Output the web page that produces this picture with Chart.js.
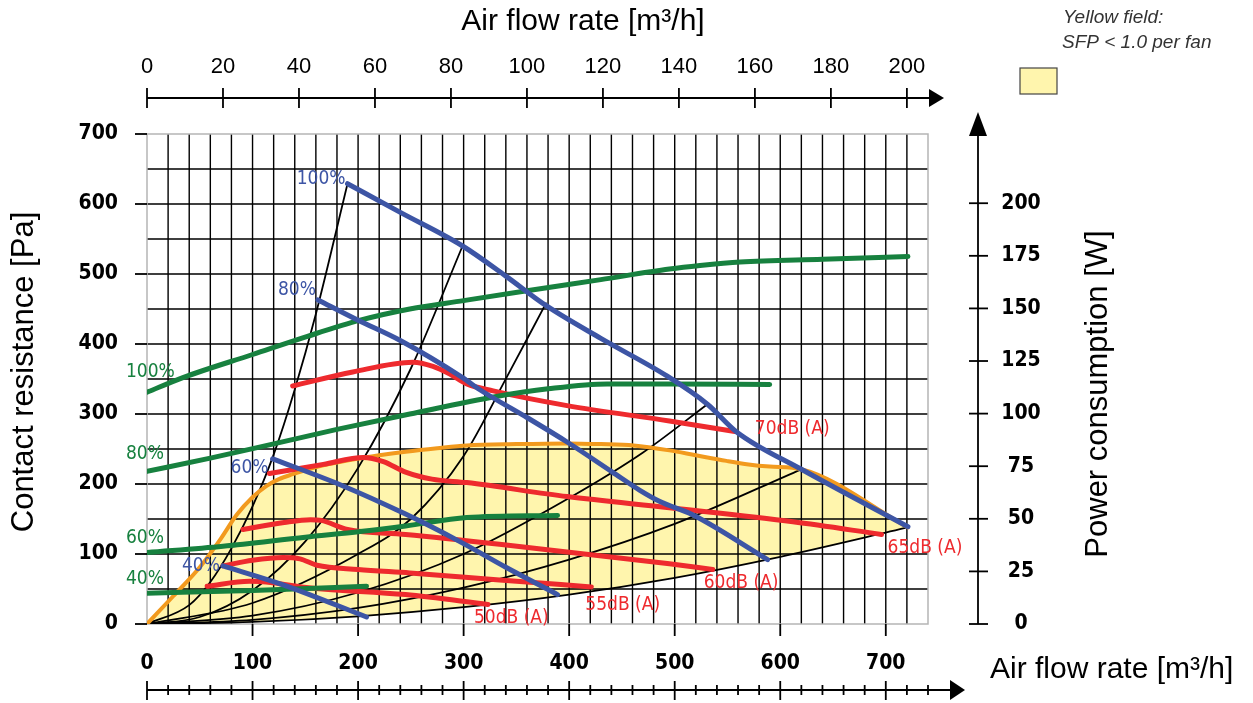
<!DOCTYPE html>
<html>
<head>
<meta charset="utf-8">
<script src="https://cdn.jsdelivr.net/npm/chart.js@4.4.0/dist/chart.umd.min.js"></script>
<style>html,body{margin:0;background:#fff}canvas{display:block}</style>
</head>
<body>
<canvas id="chart" width="1253" height="703"></canvas>
<script>
// Ticks
const flowTicks=[0,100,200,300,400,500,600,700];   // m3/h, bottom
const lsTicks=[0,20,40,60,80,100,120,140,160,180,200]; // top axis (x3.6 = m3/h)
const paTicks=[0,100,200,300,400,500,600,700];
const wTicks=[0,25,50,75,100,125,150,175,200];

// Fan curves (flow m3/h, pressure Pa) at fan speed %
const fan100=[[190,629],[240,588],[299,540],[340,497],[379,454],[430,408],[493,354],[531,314],[559,274],[620,221],[721,139]];
const fan80=[[162,463],[200,434],[240,405],[299,352],[315,335],[360,295],[398,260],[441,217],[467,191],[486,175],[517,156],[588,92]];
const fan60=[[119,236],[183,199],[245,157],[296,118],[340,81],[389,42]];
const fan40=[[72,83],[129,56],[208,10]];
const fanLabels=['100%','80%','60%','40%'];

// Power consumption (read on Pa axis) at fan speed %
const pow100=[[0,331],[34,352],[100,385],[152,411],[202,434],[249,450],[300,462],[360,476],[430,492],[495,507],[524,512],[562,517],[640,521],[721,525]];
const pow80=[[0,218],[60,237],[119,257],[180,278],[249,300],[331,325],[380,336],[436,343],[495,343],[590,342]];
const pow60=[[0,102],[72,111],[150,124],[202,132],[245,140],[303,152],[389,155]];
const pow40=[[0,44],[100,48],[208,54]];

// Sound level lines
const db70=[[138,340],[195,360],[252,374],[271,368],[287,357],[303,343],[328,333],[398,312],[495,290],[557,275]];
const db65=[[116,215],[167,228],[205,238],[224,232],[245,217],[270,207],[303,202],[398,182],[495,166],[612,146],[696,128]];
const db60=[[91,135],[130,145],[155,149],[165,148],[190,135],[245,128],[334,114],[495,86],[536,78]];
const db55=[[72,83],[100,91],[129,95],[145,93],[161,84],[200,78],[249,73],[334,63],[421,53]];
const db50=[[57,54],[97,61],[119,59],[151,52],[245,42],[323,28]];
const dbLabels=['70dB (A)','65dB (A)','60dB (A)','55dB (A)','50dB (A)'];

// SFP < 1.0 boundary
const sfpEdge=[[0,0],[25,40],[50,81],[70,122],[85,156],[100,181],[113,197],[125,207],[138,214],[165,226],[195,235],[220,241],[245,246],[275,251],[303,255],[350,257],[398,258],[430,257],[461,255],[495,248],[520,241],[549,233],[570,228],[590,225],[620,221],[721,138]];

// System curves
const sys1=[[0,0],[40,27],[60,60],[80,108],[100,168],[120,242],[140,335],[160,443],[190,629]];
const sys2=[[0,0],[50,10],[100,48],[150,118],[200,223],[250,365],[299,540]];
const sys3=[[0,0],[100,30],[200,100],[250,150],[300,240],[341,353],[378,458]];
const sys4=[[0,0],[100,12],[200,45],[300,100],[400,180],[470,245],[531,314]];
const sys5=[[0,0],[100,6],[200,23],[300,52],[400,92],[500,143],[620,221]];
const sys6=[[0,0],[100,3],[200,11],[300,24],[400,42],[500,66],[600,96],[721,138]];

const BLUE='#3d55a5', GREEN='#17813f', RED='#ee2a2e', ORANGE='#f29a1e', YELLOW='#fff5ad';
const NARROW='"Liberation Sans Narrow", "Liberation Sans", sans-serif';
const COND='"DejaVu Sans Condensed", sans-serif';

function pts(arr){return arr.map(p=>({x:p[0],y:p[1]}));}
function line(arr,color,width,order){
  return {data:pts(arr),borderColor:color,borderWidth:width,pointRadius:0,showLine:true,
    cubicInterpolationMode:'monotone',fill:false,order:order,borderCapStyle:'round'};
}

const sysCurves=[sys1,sys2,sys3,sys4,sys5,sys6];
const datasets=[];
[fan100,fan80,fan60,fan40].forEach(d=>datasets.push(line(d,BLUE,5,0)));
[pow100,pow80,pow60,pow40].forEach(d=>datasets.push(line(d,GREEN,5,0)));
[db70,db65,db60,db55,db50].forEach(d=>datasets.push(line(d,RED,5,0)));
const edge=line(sfpEdge,ORANGE,4,1);
datasets.push(edge);
const sysStart=datasets.length;
sysCurves.forEach(d=>datasets.push(line(d,'#000',1.8,2)));
edge.fill={target:sysStart+5};
edge.backgroundColor=YELLOW;

function arrowHead(ctx,x1,y1,x2,y2,x3,y3){
  ctx.beginPath();ctx.moveTo(x1,y1);ctx.lineTo(x2,y2);ctx.lineTo(x3,y3);ctx.closePath();ctx.fill();
}

const decor={
  id:'decor',
  beforeDatasetsDraw(chart){
    const {ctx,chartArea:a,scales:{x,y}}=chart;
    ctx.save();
    ctx.strokeStyle='#000';ctx.lineWidth=1.4;
    ctx.beginPath();
    for(let v=20;v<=720;v+=20){const px=x.getPixelForValue(v);ctx.moveTo(px,a.top);ctx.lineTo(px,a.bottom);}
    for(let v=50;v<700;v+=50){const py=y.getPixelForValue(v);ctx.moveTo(a.left,py);ctx.lineTo(a.right,py);}
    ctx.stroke();
    ctx.strokeStyle='#b5b5b5';ctx.lineWidth=1.5;
    ctx.strokeRect(a.left,a.top,a.right-a.left,a.bottom-a.top);
    ctx.restore();
  },
  afterDatasetsDraw(chart){
    const {ctx,chartArea:a,scales:{x,y,yW}}=chart;
    ctx.save();
    ctx.fillStyle='#000';ctx.strokeStyle='#000';ctx.lineWidth=1.8;

    // left axis
    ctx.font='bold 21px '+COND;ctx.textAlign='right';ctx.textBaseline='middle';
    paTicks.forEach(v=>{
      const py=y.getPixelForValue(v);
      ctx.beginPath();ctx.moveTo(a.left-12,py);ctx.lineTo(a.left,py);ctx.stroke();
      ctx.fillText(String(v),118,py);
    });

    // bottom axis
    ctx.textAlign='center';
    flowTicks.forEach(v=>{
      const px=x.getPixelForValue(v);
      if(v>0){ctx.beginPath();ctx.moveTo(px,a.bottom);ctx.lineTo(px,a.bottom+12);ctx.stroke();}
      ctx.fillText(String(v),px,664);
    });
    const by=690;
    ctx.beginPath();ctx.moveTo(a.left,by);ctx.lineTo(954,by);ctx.stroke();
    arrowHead(ctx,950,680,965,by,950,700);
    for(let v=0;v<=740;v+=20){
      const px=x.getPixelForValue(v);const big=v%100===0;
      ctx.beginPath();ctx.moveTo(px,by-(big?9:5));ctx.lineTo(px,by+(big?10:5));ctx.stroke();
    }

    // top axis (l/s scale)
    const ty=98;
    ctx.beginPath();ctx.moveTo(a.left,ty);ctx.lineTo(932,ty);ctx.stroke();
    arrowHead(ctx,929,89,944,ty,929,107);
    ctx.font='22px '+NARROW;ctx.textBaseline='middle';
    lsTicks.forEach(v=>{
      const px=x.getPixelForValue(v*3.6);
      ctx.beginPath();ctx.moveTo(px,ty-10);ctx.lineTo(px,ty+10);ctx.stroke();
      ctx.fillText(String(v),px,67);
    });

    // right axis (power)
    const rx=978;
    ctx.beginPath();ctx.moveTo(rx,a.bottom);ctx.lineTo(rx,130);ctx.stroke();
    arrowHead(ctx,969,136,rx,112,987,136);
    ctx.font='bold 21px '+COND;
    wTicks.forEach(v=>{
      const py=yW.getPixelForValue(v);
      ctx.beginPath();ctx.moveTo(rx-9,py);ctx.lineTo(rx+10,py);ctx.stroke();
      ctx.fillText(String(v),1021,py);
    });

    // titles
    ctx.font='30px '+NARROW;
    ctx.fillText('Air flow rate [m\u00b3/h]',583,22);
    ctx.textAlign='left';
    ctx.fillText('Air flow rate [m\u00b3/h]',990,670);
    ctx.save();ctx.translate(24,372);ctx.rotate(-Math.PI/2);ctx.textAlign='center';
    ctx.font='31px '+NARROW;ctx.fillText('Contact resistance [Pa]',0,0);ctx.restore();
    ctx.save();ctx.translate(1098,394);ctx.rotate(-Math.PI/2);ctx.textAlign='center';
    ctx.font='31px '+NARROW;ctx.fillText('Power consumption [W]',0,0);ctx.restore();

    // legend
    ctx.font='italic 19px '+NARROW;ctx.textAlign='left';ctx.fillStyle='#333';
    ctx.fillText('Yellow field:',1063,18);
    ctx.fillText('SFP < 1.0 per fan',1062,43);
    ctx.fillStyle=YELLOW;ctx.fillRect(1020,68,37,26);
    ctx.strokeStyle='#444';ctx.lineWidth=1.2;ctx.strokeRect(1020,68,37,26);

    // curve labels
    ctx.font='19px '+COND;
    ctx.fillStyle=BLUE;ctx.textAlign='right';
    const fanOff=[[-2,-5],[-2,-10],[-4,9],[-3,0]];
    [fan100,fan80,fan60,fan40].forEach((d,i)=>{
      ctx.fillText(fanLabels[i],x.getPixelForValue(d[0][0])+fanOff[i][0],y.getPixelForValue(d[0][1])+fanOff[i][1]);
    });
    ctx.fillStyle=GREEN;ctx.textAlign='left';
    const powOff=[-20,-17,-15,-14];
    [pow100,pow80,pow60,pow40].forEach((d,i)=>{
      ctx.fillText(fanLabels[i],126,y.getPixelForValue(d[0][1])+powOff[i]);
    });
    ctx.fillStyle=RED;
    const dbOff=[[20,-2],[6,14],[-9,14],[-6,18],[-14,14]];
    [db70,db65,db60,db55,db50].forEach((d,i)=>{
      const e=d[d.length-1];
      ctx.fillText(dbLabels[i],x.getPixelForValue(e[0])+dbOff[i][0],y.getPixelForValue(e[1])+dbOff[i][1]);
    });
    ctx.restore();
  }
};

new Chart(document.getElementById('chart'),{
  type:'scatter',
  data:{datasets},
  options:{
    responsive:false,animation:false,devicePixelRatio:1,
    layout:{padding:{left:147,top:134,right:325,bottom:79}},
    scales:{
      x:{type:'linear',min:0,max:740,display:false},
      y:{type:'linear',min:0,max:700,display:false},
      yW:{type:'linear',position:'right',min:0,max:232.9,display:false}
    },
    plugins:{legend:{display:false},tooltip:{enabled:false},filler:{drawTime:'beforeDraw'}}
  },
  plugins:[decor]
});
</script>
</body>
</html>
